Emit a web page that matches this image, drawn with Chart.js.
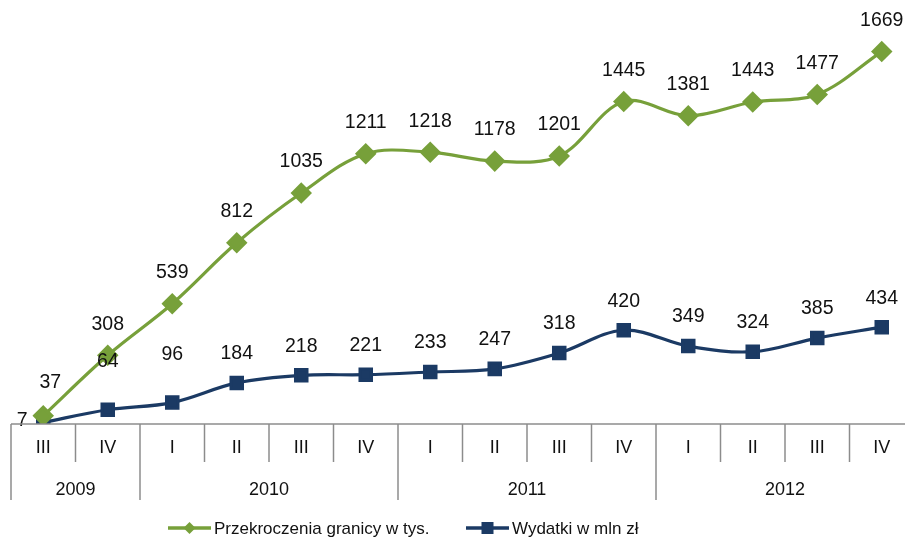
<!DOCTYPE html>
<html><head><meta charset="utf-8">
<script src="https://cdn.jsdelivr.net/npm/chart.js@4/dist/chart.umd.min.js"></script>
<style>html,body{margin:0;padding:0;background:#fff;overflow:hidden}#wrap{width:914px;height:546px}</style>
</head><body><div id="wrap"><canvas id="c"></canvas></div>
<script>
const quarters = ['III','IV','I','II','III','IV','I','II','III','IV','I','II','III','IV'];
const years = ['2009','2010','2011','2012'];
const yearSpans = [2,4,4,4];
const crossings = [37,308,539,812,1035,1211,1218,1178,1201,1445,1381,1443,1477,1669];
const spending = [7,64,96,184,218,221,233,247,318,420,349,324,385,434];
const seriesNames = ['Przekroczenia granicy w tys.','Wydatki w mln zł'];

const GREEN = '#77a03a', BLUE = '#1b3a64', GRID = '#8c8c8c';
const FONT = '"Liberation Sans", Arial, sans-serif';

// label offsets (dx, dy) per point, styling only
const greenOff = crossings.map((v,i)=> i===0 ? [7,-33] : [0,-31]);
const blueOff = spending.map((v,i)=> i===0 ? [-21,-2] : (i===1||i===2) ? [0,-48] : [0,-29]);

const overlay = {
  id:'overlay',
  afterDatasetsDraw(chart){
    const ctx = chart.ctx, x = chart.scales.x, area = chart.chartArea;
    ctx.save();
    // data labels
    ctx.font = '19.5px ' + FONT; ctx.fillStyle = '#111';
    ctx.textAlign='center'; ctx.textBaseline='middle';
    [[0,crossings,greenOff],[1,spending,blueOff]].forEach(([di,arr,off])=>{
      const meta = chart.getDatasetMeta(di);
      meta.data.forEach((p,i)=>{
        ctx.fillText(String(arr[i]), p.x+off[i][0], p.y+off[i][1]);
      });
    });
    // axis line
    const y0 = area.bottom;
    ctx.strokeStyle = GRID; ctx.lineWidth = 1.5;
    ctx.beginPath(); ctx.moveTo(area.left, y0); ctx.lineTo(area.right, y0); ctx.stroke();
    // separators
    const n = quarters.length;
    const w = (x.getPixelForValue(1) - x.getPixelForValue(0));
    const bounds = [0]; let acc=0; yearSpans.forEach(s=>{acc+=s; bounds.push(acc);});
    for(let i=0;i<=n;i++){
      const px = x.getPixelForValue(i) - w/2;
      const isYear = bounds.includes(i);
      ctx.beginPath(); ctx.moveTo(px, y0); ctx.lineTo(px, isYear ? y0+76 : y0+38); ctx.stroke();
    }
    // year labels
    ctx.font = '18px ' + FONT;
    ctx.fillStyle='#111';
    for(let k=0;k<years.length;k++){
      const a = x.getPixelForValue(bounds[k]) - w/2, b = x.getPixelForValue(bounds[k+1]) - w/2;
      ctx.fillText(years[k], (a+b)/2, y0+66);
    }
    // legend
    ctx.font = '17px ' + FONT;
    const ly = 528;
    const items = [[168, GREEN, 'diamond', seriesNames[0]],[466, BLUE, 'square', seriesNames[1]]];
    items.forEach(([lx,col,shape,txt])=>{
      ctx.strokeStyle=col; ctx.lineWidth=3.5;
      ctx.beginPath(); ctx.moveTo(lx,ly); ctx.lineTo(lx+43,ly); ctx.stroke();
      ctx.fillStyle=col; const cx=lx+21.5;
      if(shape==='diamond'){ctx.beginPath();ctx.moveTo(cx,ly-6);ctx.lineTo(cx+6,ly);ctx.lineTo(cx,ly+6);ctx.lineTo(cx-6,ly);ctx.closePath();ctx.fill();}
      else {ctx.fillRect(cx-6,ly-6,12,12);}
      ctx.fillStyle='#111'; ctx.textAlign='left';
      ctx.fillText(txt, lx+46, ly+1);
    });
    ctx.restore();
  }
};

new Chart(document.getElementById('c'), {
  type:'line',
  data:{
    labels: quarters,
    datasets:[
      {label:seriesNames[0], data:crossings, borderColor:GREEN, backgroundColor:GREEN, borderWidth:3.2,
       pointStyle:'rectRot', pointRadius:8.5, pointHoverRadius:8.5, tension:0.35},
      {label:seriesNames[1], data:spending, borderColor:BLUE, backgroundColor:BLUE, borderWidth:3.2,
       pointStyle:'rect', pointRadius:8, pointHoverRadius:8, tension:0.35}
    ]
  },
  options:{
    responsive:true, maintainAspectRatio:false, animation:false,
    layout:{autoPadding:false, padding:{left:11,right:0,top:0,bottom:0}},
    plugins:{legend:{display:false}, tooltip:{enabled:false}},
    scales:{
      x:{offset:true, grid:{display:false, drawTicks:false}, border:{display:false},
         ticks:{font:{size:18, family:FONT}, color:'#111', padding:13, maxRotation:0, autoSkip:false},
         afterFit(s){ s.height = 122; s.paddingLeft = 0; s.paddingRight = 0; }},
      y:{display:false, min:0, max:1900}
    }
  },
  plugins:[overlay]
});
</script></body></html>
